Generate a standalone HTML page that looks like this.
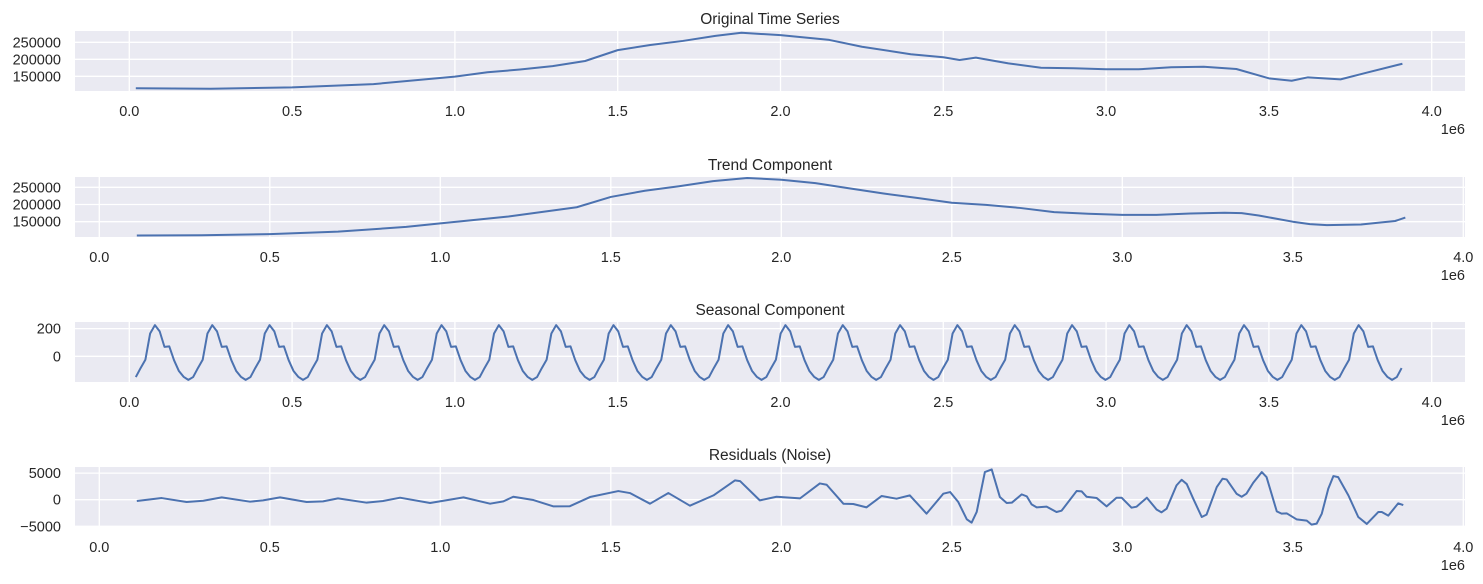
<!DOCTYPE html>
<html><head><meta charset="utf-8">
<style>
body{margin:0;background:#fff;}
svg{display:block;font-family:"Liberation Sans","DejaVu Sans",sans-serif;}
</style></head>
<body>
<svg id="chart" width="1483" height="584" viewBox="0 0 1483 584" xmlns="http://www.w3.org/2000/svg"></svg>
<script>
// ---- data ----
const origX = [0.02,0.25,0.5,0.75,1.0,1.1,1.2,1.3,1.4,1.5,1.6,1.7,1.8,1.88,2.0,2.15,2.25,2.4,2.5,2.55,2.6,2.7,2.8,2.9,3.0,3.1,3.2,3.3,3.4,3.5,3.57,3.62,3.72,3.8,3.91];
const origY = [114700,113500,117500,127000,149000,161800,170000,180000,195000,227000,242000,254000,269000,278000,271000,257000,237000,215000,206000,198000,205000,188000,175000,173500,170600,170600,176500,178000,171500,144000,137000,147000,141000,160600,187000];

const trendX = [0.11,0.3,0.5,0.7,0.9,1.0,1.2,1.4,1.5,1.6,1.7,1.8,1.9,2.0,2.1,2.2,2.3,2.4,2.5,2.6,2.7,2.8,2.9,3.0,3.1,3.2,3.3,3.35,3.4,3.5,3.55,3.6,3.7,3.8,3.83];
const trendY = [110000,110500,114000,121000,135000,145000,165000,192000,222000,240000,253000,268000,277000,272000,262000,247000,232000,219000,205000,199000,190000,178000,173000,170000,170000,174000,176000,175000,168000,150000,143000,140000,142000,152000,162000];

const seasonPattern = [-150,-85,-25,165,225,180,68,72,-28,-105,-148,-170];
const seasonStart = 0.02, seasonStep = 0.01467, seasonCount = 266;

const residX = [0.11,0.183,0.256,0.305,0.359,0.442,0.48,0.53,0.608,0.656,0.70,0.784,0.832,0.882,0.97,1.068,1.146,1.185,1.214,1.273,1.331,1.38,1.439,1.522,1.556,1.615,1.669,1.732,1.801,1.864,1.879,1.937,1.986,2.055,2.113,2.133,2.182,2.211,2.25,2.294,2.338,2.377,2.426,2.475,2.495,2.519,2.544,2.558,2.573,2.597,2.617,2.641,2.661,2.676,2.705,2.72,2.734,2.749,2.778,2.807,2.822,2.866,2.881,2.895,2.925,2.954,2.983,2.998,3.027,3.042,3.072,3.101,3.115,3.13,3.159,3.174,3.189,3.208,3.233,3.247,3.277,3.294,3.306,3.335,3.35,3.364,3.384,3.409,3.423,3.453,3.467,3.482,3.511,3.541,3.555,3.57,3.585,3.604,3.619,3.633,3.663,3.692,3.717,3.751,3.761,3.78,3.809,3.824];
const residY = [-250,310,-440,-190,440,-375,-125,440,-440,-310,250,-560,-250,375,-625,440,-750,-310,560,-60,-1250,-1220,500,1625,1250,-750,1250,-1125,810,3625,3500,-125,560,250,3060,2810,-750,-810,-1440,690,190,810,-2625,1125,1440,-440,-3690,-4310,-2310,5190,5690,500,-625,-560,1000,625,-875,-1440,-1310,-2310,-2060,1625,1560,560,310,-1250,375,375,-1500,-1310,375,-1875,-2375,-1690,2690,3750,2940,190,-3250,-2810,2375,3940,3810,1125,560,1125,3190,5190,4250,-2190,-2625,-2560,-3690,-3940,-4690,-4500,-2625,2060,4440,4250,810,-3250,-4560,-2310,-2310,-3000,-690,-1000];

const xTicks = [0.0,0.5,1.0,1.5,2.0,2.5,3.0,3.5,4.0];
const xTickLabels = ["0.0","0.5","1.0","1.5","2.0","2.5","3.0","3.5","4.0"];
const y1Ticks = [150000,200000,250000];
const y3Ticks = [0,200];
const y4Ticks = [-5000,0,5000];
const y4Labels = ["\u22125000","0","5000"];

// ---- helpers ----
const NS = "http://www.w3.org/2000/svg";
const svg = document.getElementById('chart');
function el(tag, attrs, parent){
  const e = document.createElementNS(NS, tag);
  for (const k in attrs) e.setAttribute(k, attrs[k]);
  (parent||svg).appendChild(e);
  return e;
}

function panel(cfg){
  const g = el('g', {});
  
  
  const L=75, R=1465, T=cfg.top, B=cfg.top+60;
  const xs = v => cfg.x0 + v*cfg.xk;
  const ys = v => cfg.yPx0 + (v - cfg.yV0)*cfg.yk;
  const bg = el('rect', {x:L, y:T, width:R-L, height:B-T, fill:'#eaeaf2'}, g);
  
  
  const cid = 'clip-'+cfg.name;
  const cp = el('clipPath', {id:cid}, g);
  el('rect', {x:L, y:T, width:R-L, height:B-T}, cp);
  xTicks.forEach((t,i)=>{
    const x = xs(t);
    if (x>=L && x<=R){
      const gl = el('line', {x1:x, x2:x, y1:T, y2:B, stroke:'#fff', 'stroke-width':1.3}, g);
      
      
    }
    const tl = el('text', {x:x, y:B+25, 'font-size':14.5, fill:'#262626', 'text-anchor':'middle'}, g);
    
    
    tl.textContent = xTickLabels[i];
  });
  cfg.yTicks.forEach((t,i)=>{
    const y = ys(t);
    const gl = el('line', {x1:L, x2:R, y1:y, y2:y, stroke:'#fff', 'stroke-width':1.3}, g);
    
    
    const tl = el('text', {x:61, y:y+5, 'font-size':14.5, fill:'#262626', 'text-anchor':'end'}, g);
    
    
    tl.textContent = cfg.yLabels ? cfg.yLabels[i] : String(t);
  });
  const d = cfg.px.map((v,i)=>(i?'L':'M')+xs(v).toFixed(2)+','+ys(cfg.py[i]).toFixed(2)).join(' ');
  const ln = el('path', {d:d, fill:'none', stroke:'#4c72b0', 'stroke-width':2, 'stroke-linejoin':'round', 'clip-path':'url(#'+cid+')'}, g);
  
  
  const tt = el('text', {x:(L+R)/2, y:T-7, 'font-size':15.5, fill:'#262626', 'text-anchor':'middle'}, g);
  
  
  tt.textContent = cfg.title;
  const ex = el('text', {x:R, y:B+43, 'font-size':14.5, fill:'#262626', 'text-anchor':'end'}, g);
  
  
  ex.textContent = '1e6';
}

const seasonX = [], seasonY = [];
for (let i=0;i<seasonCount;i++){ seasonX.push(seasonStart+i*seasonStep); seasonY.push(seasonPattern[i%12]); }

panel({name:'original-series', title:'Original Time Series', top:31, x0:129.3, xk:325.6,
  yPx0:76.3, yV0:150000, yk:-17/50000, yTicks:y1Ticks, px:origX, py:origY});
panel({name:'trend-component', title:'Trend Component', top:177, x0:99.3, xk:341,
  yPx0:221.7, yV0:150000, yk:-17.2/50000, yTicks:y1Ticks, px:trendX, py:trendY});
panel({name:'seasonal-component', title:'Seasonal Component', top:322, x0:129.3, xk:325.6,
  yPx0:356.3, yV0:0, yk:-27.7/200, yTicks:y3Ticks, px:seasonX, py:seasonY});
panel({name:'residuals', title:'Residuals (Noise)', top:467, x0:99.3, xk:341,
  yPx0:499.7, yV0:0, yk:-26.6/5000, yTicks:y4Ticks, yLabels:y4Labels, px:residX, py:residY});
</script>
</body></html>
